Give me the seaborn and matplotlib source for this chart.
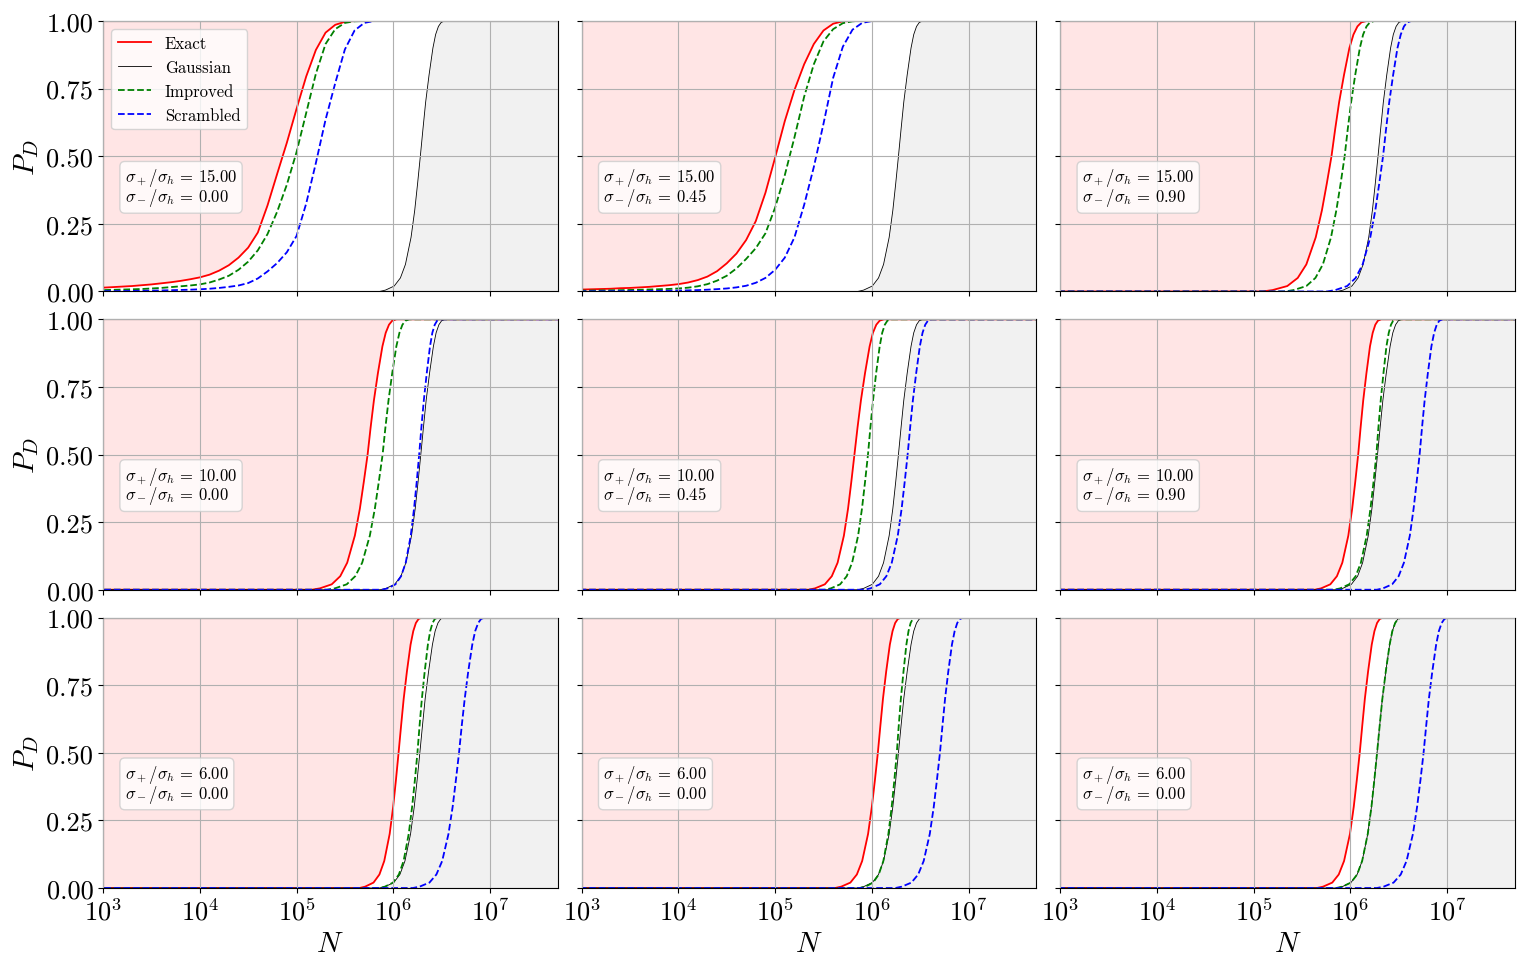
import numpy as np
import pandas as pd
import matplotlib
matplotlib.use("Agg")
import matplotlib.pyplot as plt
import seaborn as sns
from matplotlib.ticker import FormatStrFormatter, FixedLocator, NullLocator

# ---------------- data ----------------
SIGMA_PLUS = [15.0, 15.0, 15.0, 10.0, 10.0, 10.0, 6.0, 6.0, 6.0]
SIGMA_MINUS = [0.00, 0.45, 0.90, 0.00, 0.45, 0.90, 0.00, 0.00, 0.00]

# (a) broad curves of the first two panels: PD read at fixed log10(N)
WIDE_LOGN = [3.0, 3.1, 3.2, 3.3, 3.4, 3.5, 3.6, 3.7, 3.8, 3.9, 4.0,
             4.1, 4.2, 4.3, 4.4, 4.5, 4.6, 4.7, 4.8, 4.9, 5.0,
             5.1, 5.2, 5.3, 5.4, 5.5, 5.6, 5.7, 5.8, 5.9, 6.0]
WIDE_PD_EXACT = {
    0: [0.014, 0.016, 0.018, 0.020, 0.023, 0.026, 0.030, 0.034, 0.039, 0.045, 0.052,
        0.062, 0.077, 0.097, 0.125, 0.162, 0.218, 0.318, 0.435, 0.550, 0.675,
        0.795, 0.893, 0.957, 0.986, 0.997, 1.0, 1.0, 1.0, 1.0, 1.0],
    1: [0.007, 0.008, 0.009, 0.010, 0.012, 0.013, 0.015, 0.017, 0.020, 0.023, 0.027,
        0.033, 0.042, 0.055, 0.075, 0.104, 0.140, 0.190, 0.260, 0.365, 0.495,
        0.630, 0.745, 0.840, 0.915, 0.965, 0.990, 0.999, 1.0, 1.0, 1.0],
}
WIDE_PD_IMPROVED = {
    0: [0.005, 0.006, 0.007, 0.008, 0.009, 0.011, 0.013, 0.016, 0.019, 0.022, 0.026,
        0.033, 0.044, 0.058, 0.080, 0.110, 0.152, 0.212, 0.295, 0.395, 0.515,
        0.660, 0.805, 0.915, 0.970, 0.993, 0.999, 1.0, 1.0, 1.0, 1.0],
    1: [0.003, 0.0033, 0.0037, 0.0042, 0.0048, 0.0055, 0.0063, 0.0072, 0.0082, 0.0093, 0.011,
        0.014, 0.019, 0.027, 0.040, 0.058, 0.085, 0.120, 0.160, 0.215, 0.310,
        0.430, 0.570, 0.720, 0.840, 0.925, 0.970, 0.992, 0.999, 1.0, 1.0],
}
WIDE_PD_SCRAMBLED = {
    0: [0.001, 0.0013, 0.0016, 0.002, 0.0025, 0.003, 0.0037, 0.0045, 0.0055, 0.0065, 0.008,
        0.010, 0.013, 0.017, 0.022, 0.031, 0.048, 0.074, 0.105, 0.145, 0.205,
        0.325, 0.475, 0.635, 0.770, 0.895, 0.965, 0.993, 1.0, 1.0, 1.0],
    1: [0.0005, 0.0006, 0.0007, 0.0008, 0.001, 0.0012, 0.0015, 0.0018, 0.0022, 0.0027, 0.0033,
        0.004, 0.005, 0.0065, 0.0085, 0.011, 0.015, 0.021, 0.032, 0.050, 0.080,
        0.125, 0.200, 0.320, 0.460, 0.620, 0.790, 0.905, 0.968, 0.993, 1.0],
}

# (b) steep curves: log10(N) at which each PD level is reached
PD_LEVELS = [0.0, 0.005, 0.02, 0.05, 0.10, 0.20, 0.30, 0.40, 0.50,
             0.60, 0.70, 0.80, 0.90, 0.95, 0.98, 0.995, 1.0]
LOGN_EXACT = {
    2: [5.093, 5.194, 5.347, 5.455, 5.544, 5.641, 5.705, 5.756, 5.804, 5.842, 5.883, 5.933, 5.989, 6.031, 6.072, 6.113, 6.164],
    3: [5.158, 5.241, 5.364, 5.452, 5.524, 5.603, 5.655, 5.696, 5.735, 5.766, 5.8, 5.841, 5.888, 5.922, 5.956, 5.99, 6.033],
    4: [5.344, 5.412, 5.514, 5.586, 5.646, 5.711, 5.754, 5.788, 5.82, 5.852, 5.887, 5.929, 5.977, 6.011, 6.046, 6.081, 6.125],
    5: [5.632, 5.696, 5.792, 5.86, 5.916, 5.978, 6.018, 6.05, 6.08, 6.105, 6.132, 6.165, 6.202, 6.23, 6.257, 6.284, 6.318],
    6: [5.652, 5.709, 5.796, 5.857, 5.907, 5.963, 5.999, 6.028, 6.055, 6.081, 6.108, 6.141, 6.179, 6.207, 6.234, 6.262, 6.297],
    7: [5.62, 5.683, 5.778, 5.845, 5.9, 5.961, 6.0, 6.032, 6.062, 6.088, 6.115, 6.148, 6.186, 6.214, 6.241, 6.269, 6.304],
    8: [5.654, 5.717, 5.812, 5.879, 5.934, 5.995, 6.034, 6.066, 6.096, 6.122, 6.149, 6.182, 6.22, 6.248, 6.275, 6.303, 6.338],
}
LOGN_GAUSSIAN = {
    0: [5.86, 5.92, 6.01, 6.074, 6.126, 6.184, 6.222, 6.252, 6.28, 6.307, 6.335, 6.37, 6.41, 6.438, 6.467, 6.496, 6.532],
    1: [5.855, 5.915, 6.005, 6.069, 6.121, 6.179, 6.217, 6.247, 6.275, 6.302, 6.33, 6.365, 6.405, 6.433, 6.462, 6.491, 6.527],
    2: [5.865, 5.925, 6.015, 6.079, 6.131, 6.189, 6.227, 6.257, 6.285, 6.312, 6.34, 6.375, 6.415, 6.443, 6.472, 6.501, 6.537],
    3: [5.865, 5.925, 6.015, 6.079, 6.131, 6.189, 6.227, 6.257, 6.285, 6.312, 6.34, 6.375, 6.415, 6.443, 6.472, 6.501, 6.537],
    4: [5.855, 5.915, 6.005, 6.069, 6.121, 6.179, 6.217, 6.247, 6.275, 6.302, 6.33, 6.365, 6.405, 6.433, 6.462, 6.491, 6.527],
    5: [5.86, 5.92, 6.01, 6.074, 6.126, 6.184, 6.222, 6.252, 6.28, 6.307, 6.335, 6.37, 6.41, 6.438, 6.467, 6.496, 6.532],
    6: [5.855, 5.915, 6.005, 6.069, 6.121, 6.179, 6.217, 6.247, 6.275, 6.302, 6.33, 6.365, 6.405, 6.433, 6.462, 6.491, 6.527],
    7: [5.855, 5.915, 6.005, 6.069, 6.121, 6.179, 6.217, 6.247, 6.275, 6.302, 6.33, 6.365, 6.405, 6.433, 6.462, 6.491, 6.527],
    8: [5.855, 5.915, 6.005, 6.069, 6.121, 6.179, 6.217, 6.247, 6.275, 6.302, 6.33, 6.365, 6.405, 6.433, 6.462, 6.491, 6.527],
}
LOGN_IMPROVED = {
    2: [5.324, 5.412, 5.544, 5.638, 5.715, 5.799, 5.854, 5.899, 5.94, 5.972, 6.007, 6.049, 6.097, 6.131, 6.166, 6.201, 6.245],
    3: [5.313, 5.396, 5.519, 5.607, 5.679, 5.758, 5.81, 5.851, 5.89, 5.919, 5.951, 5.989, 6.032, 6.064, 6.095, 6.127, 6.167],
    4: [5.512, 5.576, 5.672, 5.74, 5.796, 5.858, 5.898, 5.93, 5.96, 5.985, 6.012, 6.044, 6.081, 6.107, 6.134, 6.161, 6.195],
    5: [5.831, 5.894, 5.987, 6.054, 6.108, 6.168, 6.207, 6.239, 6.268, 6.289, 6.313, 6.341, 6.372, 6.396, 6.419, 6.442, 6.471],
    6: [5.858, 5.914, 5.998, 6.058, 6.107, 6.16, 6.195, 6.224, 6.25, 6.272, 6.296, 6.325, 6.358, 6.382, 6.406, 6.43, 6.46],
    7: [5.877, 5.932, 6.013, 6.071, 6.119, 6.171, 6.205, 6.233, 6.258, 6.278, 6.3, 6.327, 6.357, 6.379, 6.401, 6.423, 6.45],
    8: [5.855, 5.915, 6.005, 6.069, 6.121, 6.179, 6.217, 6.247, 6.275, 6.302, 6.33, 6.365, 6.405, 6.433, 6.462, 6.491, 6.527],
}
LOGN_SCRAMBLED = {
    2: [5.76, 5.843, 5.966, 6.054, 6.126, 6.205, 6.257, 6.298, 6.337, 6.368, 6.401, 6.441, 6.486, 6.52, 6.553, 6.586, 6.627],
    3: [5.887, 5.942, 6.023, 6.081, 6.129, 6.181, 6.215, 6.243, 6.268, 6.291, 6.316, 6.346, 6.38, 6.404, 6.429, 6.454, 6.485],
    4: [5.922, 5.986, 6.082, 6.15, 6.206, 6.268, 6.308, 6.34, 6.37, 6.396, 6.424, 6.458, 6.496, 6.524, 6.552, 6.58, 6.615],
    5: [6.273, 6.336, 6.431, 6.498, 6.553, 6.614, 6.653, 6.685, 6.715, 6.74, 6.767, 6.8, 6.837, 6.865, 6.892, 6.919, 6.953],
    6: [6.204, 6.272, 6.374, 6.446, 6.506, 6.571, 6.614, 6.648, 6.68, 6.708, 6.739, 6.775, 6.817, 6.847, 6.878, 6.908, 6.946],
    7: [6.245, 6.31, 6.409, 6.479, 6.536, 6.599, 6.64, 6.673, 6.704, 6.73, 6.757, 6.79, 6.828, 6.856, 6.883, 6.911, 6.946],
    8: [6.274, 6.343, 6.446, 6.52, 6.58, 6.646, 6.689, 6.724, 6.756, 6.783, 6.811, 6.846, 6.886, 6.914, 6.943, 6.972, 7.008],
}

METHODS = ["Exact", "Gaussian", "Improved", "Scrambled"]
X_TICKS = [1e3, 1e4, 1e5, 1e6, 1e7]
Y_TICKS = [0.0, 0.25, 0.50, 0.75, 1.00]

# ---------------- style ----------------
plt.rcParams.update({
    "font.family": "serif",
    "font.serif": ["cmr10", "DejaVu Serif"],
    "mathtext.fontset": "cm",
    "axes.formatter.use_mathtext": True,
    "axes.unicode_minus": False,
})

X_LIM = (1e3, 5e7)
FAR_LEFT, FAR_RIGHT = 1e1, 1e9   # flat continuation beyond the axis limits

STYLE = {
    "Exact": dict(color="red", linestyle="-", linewidth=1.3),
    "Gaussian": dict(color="black", linestyle="-", linewidth=0.6),
    "Improved": dict(color="green", linestyle="--", linewidth=1.3),
    "Scrambled": dict(color="blue", linestyle="--", linewidth=1.3),
}
STEEP = {"Exact": LOGN_EXACT, "Gaussian": LOGN_GAUSSIAN,
         "Improved": LOGN_IMPROVED, "Scrambled": LOGN_SCRAMBLED}
WIDE = {"Exact": WIDE_PD_EXACT, "Improved": WIDE_PD_IMPROVED,
        "Scrambled": WIDE_PD_SCRAMBLED}


def curve(method, k):
    """Return (N, PD) of one curve, continued flat beyond the axis limits."""
    if k in STEEP[method]:
        n = 10.0 ** np.array(STEEP[method][k])
        p = np.array(PD_LEVELS)
    else:
        n = 10.0 ** np.array(WIDE_LOGN)
        p = np.array(WIDE[method][k])
    n = np.concatenate([[FAR_LEFT], n, [FAR_RIGHT]])
    p = np.concatenate([[0.0], p, [1.0]])
    return n, p


fig, axes = plt.subplots(3, 3, figsize=(15.27, 9.70), dpi=100,
                         sharex=True, sharey=True)
fig.subplots_adjust(left=0.0675, right=0.992, bottom=0.0835, top=0.9773,
                    wspace=0.053, hspace=0.103)

for k, ax in enumerate(axes.flat):
    curves = {m: curve(m, k) for m in METHODS}

    # shaded regions: left of the exact curve, right of the gaussian curve
    ne, pe = curves["Exact"]
    ax.fill_betweenx(pe, FAR_LEFT, ne, color="red", alpha=0.1,
                     linewidth=0, zorder=0.5)
    ng, pg = curves["Gaussian"]
    ax.fill_betweenx(pg, ng, FAR_RIGHT, color="black", alpha=0.055,
                     linewidth=0, zorder=0.5)

    for m in METHODS:
        n, p = curves[m]
        df = pd.DataFrame({"N": n, "PD": p})
        sns.lineplot(data=df, x="N", y="PD", ax=ax, sort=False,
                     estimator=None, label=(m if k == 0 else None),
                     zorder=2, **STYLE[m])

    ax.set_xscale("log")
    ax.set_xlim(*X_LIM)
    ax.set_ylim(0, 1)
    ax.xaxis.set_major_locator(FixedLocator(X_TICKS))
    ax.xaxis.set_minor_locator(NullLocator())
    ax.yaxis.set_major_locator(FixedLocator(Y_TICKS))
    ax.yaxis.set_major_formatter(FormatStrFormatter("%.2f"))
    ax.tick_params(labelsize=19)
    ax.grid(True, color="#b0b0b0", linewidth=0.8, zorder=1)
    ax.set_axisbelow(False)
    ax.set_xlabel("")
    ax.set_ylabel("")

    txt = (r"$\sigma_+/\sigma_h \,=\, %.2f$" % SIGMA_PLUS[k] + "\n" +
           r"$\sigma_-/\sigma_h \,=\, %.2f$" % SIGMA_MINUS[k])
    ax.text(0.048, 0.385, txt, transform=ax.transAxes, fontsize=12,
            ha="left", va="center", zorder=5, linespacing=0.85,
            bbox=dict(boxstyle="round", facecolor="white", alpha=0.8,
                      edgecolor="0.8"))

    if k == 0:
        ax.legend(loc="upper left", fontsize=12)
    elif ax.get_legend() is not None:
        ax.get_legend().remove()

for r in range(3):
    axes[r, 0].set_ylabel(r"$P_D$", fontsize=21)
for c in range(3):
    axes[2, c].set_xlabel(r"$N$", fontsize=21)

fig.savefig("out.png", dpi=100)
